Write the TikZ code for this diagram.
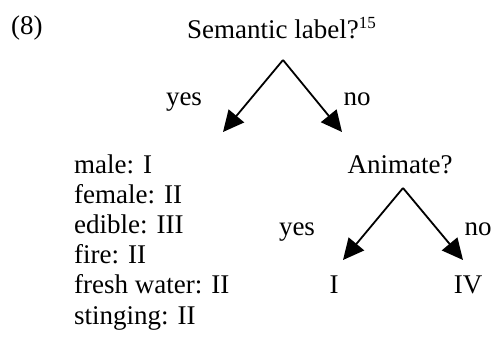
\documentclass[tikz,border=0pt]{standalone}
\usepackage{fontspec}
\setmainfont{Liberation Serif}
\usetikzlibrary{arrows.meta}
\begin{document}
\begin{tikzpicture}[x=1pt,y=-1pt,
  txt/.style={inner sep=0pt,font=\fontsize{27}{30}\selectfont},
  arr/.style={line width=1.8pt,-{Triangle[length=21pt,width=20pt]}}]
\useasboundingbox (0,0) rectangle (495,338);
\node[txt,anchor=base west] (ex) at (11,34) {(8)};
\node[txt,anchor=base west] (sem) at (187,38) {Semantic label?\textsuperscript{\fontsize{17}{17}\selectfont 15}};
\coordinate (a1) at (283,60);
\coordinate (t1l) at (223,132);
\coordinate (t1r) at (342,132);
\draw[arr] (a1) -- (t1l);
\draw[arr] (a1) -- (t1r);
\node[txt,anchor=base] (yes1) at (184,105) {yes};
\node[txt,anchor=base] (no1) at (357,105) {no};
\foreach \t [count=\i from 0] in {male: I,female: II,edible: III,fire: II,fresh water: II,stinging: II}
  \node[txt,anchor=base west] (L\i) at (74,173+30.2*\i) {\t};
\node[txt,anchor=base] (anim) at (400,173) {Animate?};
\coordinate (a2) at (403,188);
\coordinate (t2l) at (343,260);
\coordinate (t2r) at (463,260);
\draw[arr] (a2) -- (t2l);
\draw[arr] (a2) -- (t2r);
\node[txt,anchor=base] (yes2) at (297,235) {yes};
\node[txt,anchor=base] (no2) at (478,235) {no};
\node[txt,anchor=base] (I) at (334,293) {I};
\node[txt,anchor=base] (IV) at (468,293) {IV};
\end{tikzpicture}
\end{document}
